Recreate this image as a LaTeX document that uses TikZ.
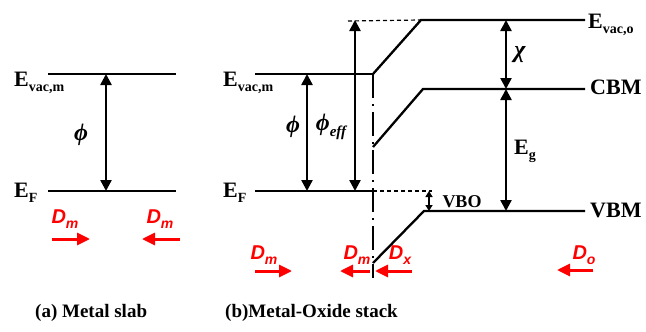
\documentclass[tikz,border=0pt]{standalone}
\usepackage{fontspec}
\setmainfont{Liberation Serif}
\newfontfamily\dipfont{Liberation Sans}
\usetikzlibrary{positioning,arrows.meta}

% level name with a lowered index
\newcommand{\lvlname}[2]{#1\raisebox{-0.45ex}{\fontsize{14}{14}\selectfont #2}}
% dipole name with a lowered index
\newcommand{\dipname}[2]{#1\raisebox{-0.45ex}{\fontsize{14}{14}\selectfont #2}}

\begin{document}
\begin{tikzpicture}[x=1pt, y=-1pt, >={Triangle[width=11pt,length=11pt]},
  level/.style={line width=2.3pt},
  guide/.style={line width=1.2pt, dash pattern=on 4pt off 3pt},
  gap/.style={<->, line width=2.4pt},
  smallgap/.style={{Triangle[width=7pt,length=6pt]}-{Triangle[width=7pt,length=6pt]}, line width=2pt},
  dipole/.style={-{Triangle[width=12pt,length=13pt]}, red, line width=3pt},
  dlabel/.style={red, inner sep=0pt, font=\dipfont\bfseries\itshape\fontsize{20}{20}\selectfont},
  elabel/.style={inner sep=0pt, anchor=north west, font=\bfseries\fontsize{22}{22}\selectfont},
  glabel/.style={inner sep=0pt, font=\bfseries\itshape\fontsize{24}{24}\selectfont},
  caption/.style={inner sep=0pt, anchor=west, font=\bfseries\fontsize{19}{19}\selectfont}]
\useasboundingbox (0,0) rectangle (646,332);

% (a) Metal slab
\coordinate (avacl) at (48,74);
\coordinate (avacr) at (176,74);
\coordinate (afl) at (48,191);
\coordinate (afr) at (176,191);
\draw[level] (avacl) -- (avacr);
\draw[level] (afl) -- (afr);
\coordinate (aphitop) at (106,74);
\coordinate (aphibot) at (106,191);
\draw[gap] (aphitop) -- (aphibot);

\node (aevac) [elabel] at (14,72) {\lvlname{E}{vac,m}};
\node (aef) [elabel] at (14,183) {\lvlname{E}{F}};
\node (aphi) [glabel] at (81,135) {ϕ};

% dipoles of the slab
\node (adml) [dlabel] at (65,219) {\dipname{D}{m}};
\node (admr) [dlabel] at (160,219) {\dipname{D}{m}};
\coordinate (adml1) at (52,239);
\coordinate (adml2) at (90,239);
\coordinate (admr1) at (180,239);
\coordinate (admr2) at (142,239);
\draw[dipole] (adml1) -- (adml2);
\draw[dipole] (admr1) -- (admr2);

% (b) Metal-Oxide stack: metal side
\coordinate (bvacl) at (255,74);
\coordinate (bvacm) at (373,74);
\coordinate (bfl) at (255,191);
\coordinate (bfm) at (373,191);
\draw[level] (bvacl) -- (bvacm);
\draw[level] (bfl) -- (bfm);

% oxide side
\coordinate (bvack) at (421,20);
\coordinate (bvaco) at (585,20);
\coordinate (bcbm0) at (373,147);
\coordinate (bcbmk) at (423,89);
\coordinate (bcbm) at (585,89);
\coordinate (bvbm0) at (373,263);
\coordinate (bvbmk) at (424,211);
\coordinate (bvbm) at (585,211);
\draw[level] (bvacm) -- (bvack) -- (bvaco);
\draw[level] (bcbm0) -- (bcbmk) -- (bcbm);
\draw[level] (bvbm0) -- (bvbmk) -- (bvbm);

% interface and guides
\coordinate (bbot) at (373,278);
\draw[line width=2.6pt, dash pattern=on 24pt off 6pt on 2pt off 6pt] (bvacm) -- (bbot);
\coordinate (bvtop) at (348,21);
\coordinate (bfo) at (432,191);
\draw[guide] (bvtop) -- (bvack);
\draw[guide] (bfm) -- (bfo);

% gaps
\coordinate (bphitop) at (307,74);
\coordinate (bphibot) at (307,191);
\coordinate (beftop) at (355,20);
\coordinate (befbot) at (355,191);
\coordinate (bchitop) at (506,20);
\coordinate (bchibot) at (506,89);
\coordinate (begbot) at (506,211);
\coordinate (bvbotop) at (429,191);
\coordinate (bvbobot) at (429,211);
\draw[gap] (bphitop) -- (bphibot);
\draw[gap] (beftop) -- (befbot);
\draw[gap] (bchitop) -- (bchibot);
\draw[gap] (bchibot) -- (begbot);
\draw[smallgap] (bvbotop) -- (bvbobot);

\node (bevac) [elabel] at (223,72) {\lvlname{E}{vac,m}};
\node (bef) [elabel] at (223,183) {\lvlname{E}{F}};
\node (bphi) [glabel] at (293,127) {ϕ};
\node (bphieff) [glabel] at (331,127) {ϕ\raisebox{-0.5ex}{\fontsize{15}{15}\selectfont eff}};
\node (bchi) [glabel] at (520,55) {χ};
\node (beg) [elabel] at (514,140) {\lvlname{E}{g}};
\node (bvbo) [inner sep=0pt, font=\bfseries\fontsize{18}{18}\selectfont] at (462,202) {VBO};
\node (bevaco) [elabel] at (588,14) {\lvlname{E}{vac,o}};
\node (bcbmlab) [elabel] at (590,80) {CBM};
\node (bvbmlab) [elabel] at (590,203) {VBM};

% dipoles of the stack
\node (bdml) [dlabel] at (264,255) {\dipname{D}{m}};
\node (bdmi) [dlabel] at (357,255) {\dipname{D}{m}};
\node (bdx) [dlabel] at (400,255) {\dipname{D}{x}};
\node (bdo) [dlabel] at (584,255) {\dipname{D}{o}};
\coordinate (bdml1) at (255,271);
\coordinate (bdml2) at (292,271);
\coordinate (bdmi1) at (370,271);
\coordinate (bdmi2) at (340,271);
\coordinate (bdx1) at (412,271);
\coordinate (bdx2) at (375,271);
\coordinate (bdo1) at (593,270);
\coordinate (bdo2) at (557,270);
\draw[dipole] (bdml1) -- (bdml2);
\draw[dipole] (bdmi1) -- (bdmi2);
\draw[dipole] (bdx1) -- (bdx2);
\draw[dipole] (bdo1) -- (bdo2);

% captions
\node (capa) [caption] at (35,313) {(a) Metal slab};
\node (capb) [caption] at (225,313) {(b)Metal-Oxide stack};
\end{tikzpicture}
\end{document}
